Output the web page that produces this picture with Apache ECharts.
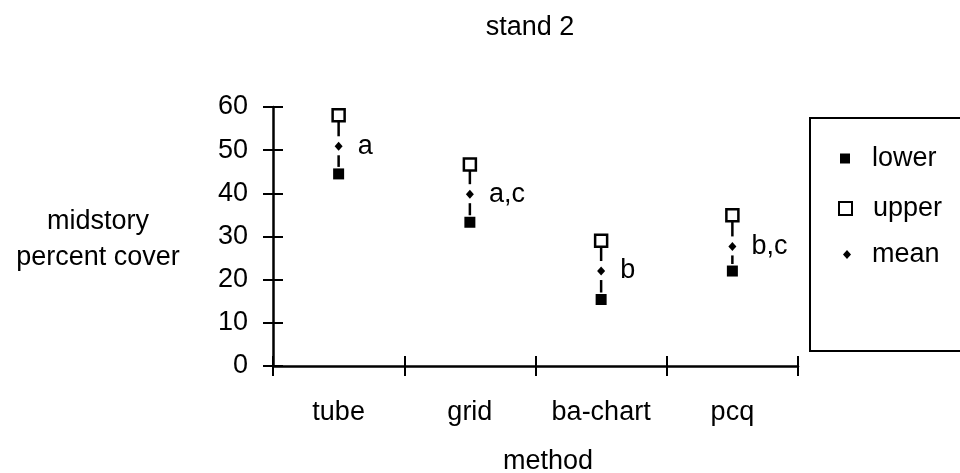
<!DOCTYPE html>
<html><head><meta charset="utf-8">
<script src="https://cdn.jsdelivr.net/npm/echarts@6/dist/echarts.min.js"></script>
<style>html,body{margin:0;padding:0;background:#fff}#c{width:960px;height:473px}</style>
</head><body><div id="c"></div>
<script>
// ---- data ----
const categories = ['tube', 'grid', 'ba-chart', 'pcq'];
const lowerValues = [44.5, 33.3, 15.4, 22.0];
const upperValues = [58.1, 46.7, 29.0, 34.9];
const meanValues  = [50.9, 39.8, 22.0, 27.7];
const groupLabels = ['a', 'a,c', 'b', 'b,c'];
const yMin = 0, yMax = 60, yInterval = 10;

const FONT = "'Liberation Sans', Arial, Helvetica, sans-serif";
const FS = 27;
const txt = {fontSize: FS, fontFamily: FONT, color: '#000', fontWeight: 'normal'};

const rangeData = categories.map((c, i) => [i, lowerValues[i], meanValues[i], upperValues[i]]);

const chart = echarts.init(document.getElementById('c'), null, {renderer: 'canvas'});
chart.setOption({
  animation: false,
  backgroundColor: '#fff',
  title: [
    {text: 'stand 2', left: 530, top: 14, textAlign: 'center', padding: 0,
     textStyle: Object.assign({}, txt, {lineHeight: FS})},
    {text: 'midstory\npercent cover', left: 98, top: 204, textAlign: 'center', padding: 0,
     textStyle: Object.assign({}, txt, {lineHeight: 36})}
  ],
  grid: {left: 273, right: 162, top: 107, bottom: 107, containLabel: false, outerBoundsMode: 'none'},
  xAxis: [
    {type: 'category', data: categories, position: 'bottom', offset: 0,
     axisLine: {show: true, lineStyle: {color: '#000', width: 2.5}},
     axisTick: {show: true, length: 10, inside: false, lineStyle: {color: '#000', width: 2}},
     axisLabel: Object.assign({margin: 33}, txt),
     splitLine: {show: false},
     name: 'method', nameLocation: 'middle', nameGap: 82,
     nameTextStyle: Object.assign({}, txt, {lineHeight: FS, padding: [0, 0, 0, 25]})},
    {type: 'category', data: categories, position: 'bottom', offset: 0,
     axisLine: {show: false},
     axisTick: {show: true, length: 10, inside: true, lineStyle: {color: '#000', width: 2}},
     axisLabel: {show: false}, splitLine: {show: false}}
  ],
  yAxis: [
    {type: 'value', min: yMin, max: yMax, interval: yInterval, position: 'left', offset: 0,
     axisLine: {show: true, lineStyle: {color: '#000', width: 2.5}},
     axisTick: {show: true, length: 10, inside: false, lineStyle: {color: '#000', width: 2}},
     axisLabel: Object.assign({margin: 25}, txt),
     splitLine: {show: false}},
    {type: 'value', min: yMin, max: yMax, interval: yInterval, position: 'left', offset: 0,
     axisLine: {show: false},
     axisTick: {show: true, length: 10, inside: true, lineStyle: {color: '#000', width: 2}},
     axisLabel: {show: false}, splitLine: {show: false}}
  ],
  legend: [
    {data: [{name: 'lower', icon: 'rect', itemStyle: {color: '#000', opacity: 1}}],
     left: 840, top: 142, padding: 0, selectedMode: false,
     itemWidth: 10, itemHeight: 10,
     textStyle: Object.assign({}, txt, {lineHeight: FS, padding: [6, 0, 0, 17]})},
    {data: [{name: 'upper', icon: 'rect', itemStyle: {color: '#fff', borderColor: '#000', borderWidth: 2, opacity: 1}}],
     left: 838, top: 192, padding: 0, selectedMode: false,
     itemWidth: 13, itemHeight: 13,
     textStyle: Object.assign({}, txt, {lineHeight: FS, padding: [6, 0, 0, 16]})},
    {data: [{name: 'mean', icon: 'diamond', itemStyle: {color: '#000', opacity: 1}}],
     left: 843, top: 238, padding: 0, selectedMode: false,
     itemWidth: 8, itemHeight: 9,
     textStyle: Object.assign({}, txt, {lineHeight: FS, padding: [6, 0, 0, 16]})}
  ],
  graphic: [
    {type: 'rect', shape: {x: 810, y: 118, width: 200, height: 233},
     style: {fill: 'none', stroke: '#000', lineWidth: 2}, silent: true}
  ],
  series: [
    {type: 'custom', name: 'range', xAxisIndex: 0, yAxisIndex: 0, z: 1,
     encode: {x: 0, y: [1, 2, 3]}, data: rangeData, silent: true,
     renderItem: function (params, api) {
       const x = api.value(0);
       const pL = api.coord([x, api.value(1)]);
       const pM = api.coord([x, api.value(2)]);
       const pU = api.coord([x, api.value(3)]);
       const style = {stroke: '#000', lineWidth: 2.5};
       return {type: 'group', children: [
         {type: 'line', shape: {x1: pU[0], y1: pU[1], x2: pM[0], y2: pM[1] - 10}, style: style},
         {type: 'line', shape: {x1: pM[0], y1: pM[1] + 9, x2: pL[0], y2: pL[1] - 7}, style: style}
       ]};
     }},
    {type: 'scatter', name: 'lower', data: lowerValues, symbol: 'rect', symbolSize: 11, z: 3,
     itemStyle: {color: '#000', opacity: 1}, silent: true},
    {type: 'scatter', name: 'upper', data: upperValues, symbol: 'rect', symbolSize: 12, z: 3,
     itemStyle: {color: '#fff', borderColor: '#000', borderWidth: 2.5, opacity: 1}, silent: true},
    {type: 'scatter', name: 'mean', data: meanValues, symbol: 'diamond', symbolSize: [8, 9], z: 3,
     itemStyle: {color: '#000', opacity: 1}, silent: true,
     label: Object.assign({show: true, position: 'right', distance: 15,
       formatter: function (p) { return groupLabels[p.dataIndex]; }}, txt)}
  ]
});
</script>
</body></html>
